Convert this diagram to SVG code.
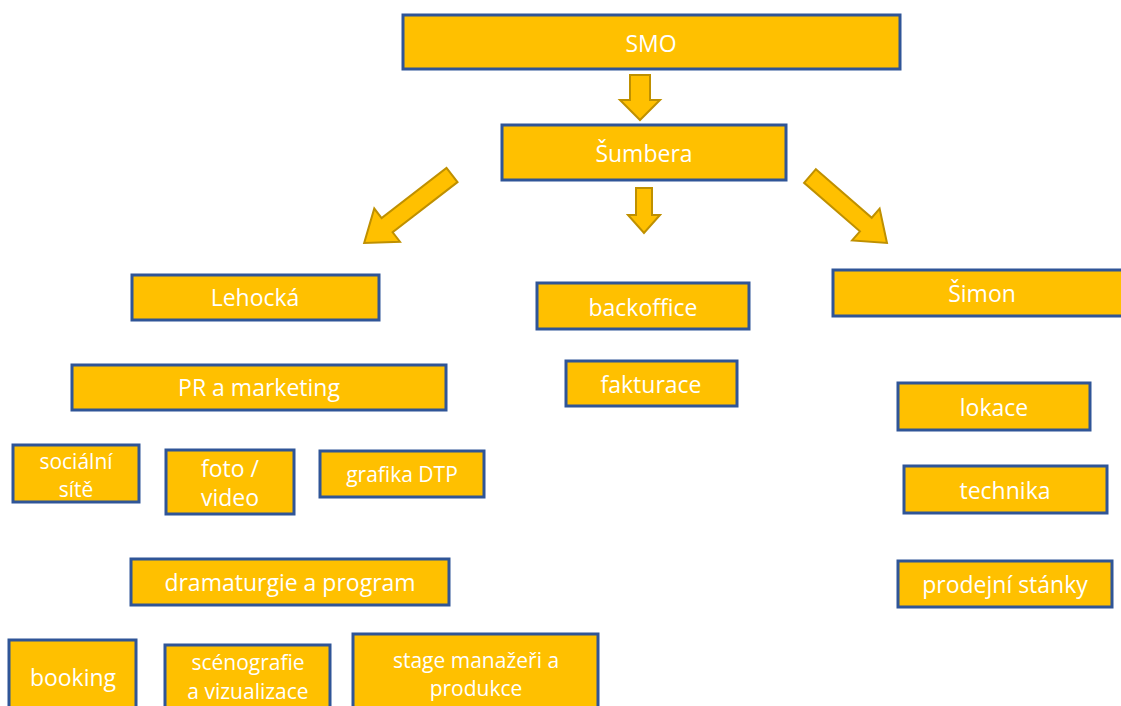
<svg xmlns="http://www.w3.org/2000/svg" width="1121" height="706" viewBox="0 0 1121 706">
<defs>
<style>
.box{fill:#FFC000;stroke:#2F5597;stroke-width:3}
.t{fill:#fff;font-family:"Open Sans","Noto Sans",sans-serif;font-size:23px;text-anchor:middle;dominant-baseline:central}
.s{font-size:21px}
.arr{fill:#FFC000;stroke:#BF9000;stroke-width:2}
</style>
</defs>
<rect width="1121" height="706" fill="#fff"/>
<g id="connectors">
<polygon class="arr" points="630,75 650,75 650,100 660,100 640,120 620,100 630,100"/>
<polygon class="arr" points="636,188 652,188 652,215 660,215 644,233 628,215 636,215"/>
<g transform="translate(452,175) rotate(142.3)"><polygon class="arr" points="0,-9 82,-9 82,-21 111,0 82,21 82,9 0,9"/></g>
<g transform="translate(810,176) rotate(41)"><polygon class="arr" points="0,-9 74,-9 74,-21 102,0 74,21 74,9 0,9"/></g>
</g>
<g id="smo"><rect class="box" x="403" y="15" width="497" height="54"/><text class="t" x="651" y="43">SMO</text></g>
<g id="sumbera"><rect class="box" x="502" y="125" width="284" height="55"/><text class="t" x="644" y="153">Šumbera</text></g>
<g id="lehocka"><rect class="box" x="132" y="275" width="247" height="45"/><text class="t" x="255" y="297">Lehocká</text></g>
<g id="pr"><rect class="box" x="72" y="365" width="374" height="45"/><text class="t" x="259" y="387">PR a marketing</text></g>
<g id="socialni"><rect class="box" x="13" y="445" width="126" height="57"/><text class="t s" x="76" y="461">sociální</text><text class="t s" x="76" y="489">sítě</text></g>
<g id="foto"><rect class="box" x="166" y="450" width="128" height="64"/><text class="t" x="230" y="468">foto /</text><text class="t" x="230" y="497">video</text></g>
<g id="grafika"><rect class="box" x="320" y="451" width="164" height="46"/><text class="t s" x="402" y="474">grafika DTP</text></g>
<g id="dramaturgie"><rect class="box" x="131" y="559" width="318" height="46"/><text class="t" x="290" y="582">dramaturgie a program</text></g>
<g id="booking"><rect class="box" x="9" y="640" width="127" height="70"/><text class="t" x="73" y="677">booking</text></g>
<g id="scenografie"><rect class="box" x="165" y="645" width="165" height="65"/><text class="t s" x="248" y="662">scénografie</text><text class="t s" x="248" y="691">a vizualizace</text></g>
<g id="stage"><rect class="box" x="353" y="634" width="245" height="76"/><text class="t s" x="476" y="660">stage manažeři a</text><text class="t s" x="476" y="688">produkce</text></g>
<g id="backoffice"><rect class="box" x="537" y="283" width="212" height="46"/><text class="t" x="643" y="307">backoffice</text></g>
<g id="fakturace"><rect class="box" x="566" y="361" width="171" height="45"/><text class="t" x="651" y="384">fakturace</text></g>
<g id="simon"><rect class="box" x="833" y="270" width="292" height="46"/><text class="t" x="982" y="293">Šimon</text></g>
<g id="lokace"><rect class="box" x="898" y="383" width="192" height="47"/><text class="t" x="994" y="407">lokace</text></g>
<g id="technika"><rect class="box" x="904" y="466" width="203" height="47"/><text class="t" x="1005" y="490">technika</text></g>
<g id="stanky"><rect class="box" x="898" y="561" width="214" height="46"/><text class="t" x="1005" y="584">prodejní stánky</text></g>
</svg>
